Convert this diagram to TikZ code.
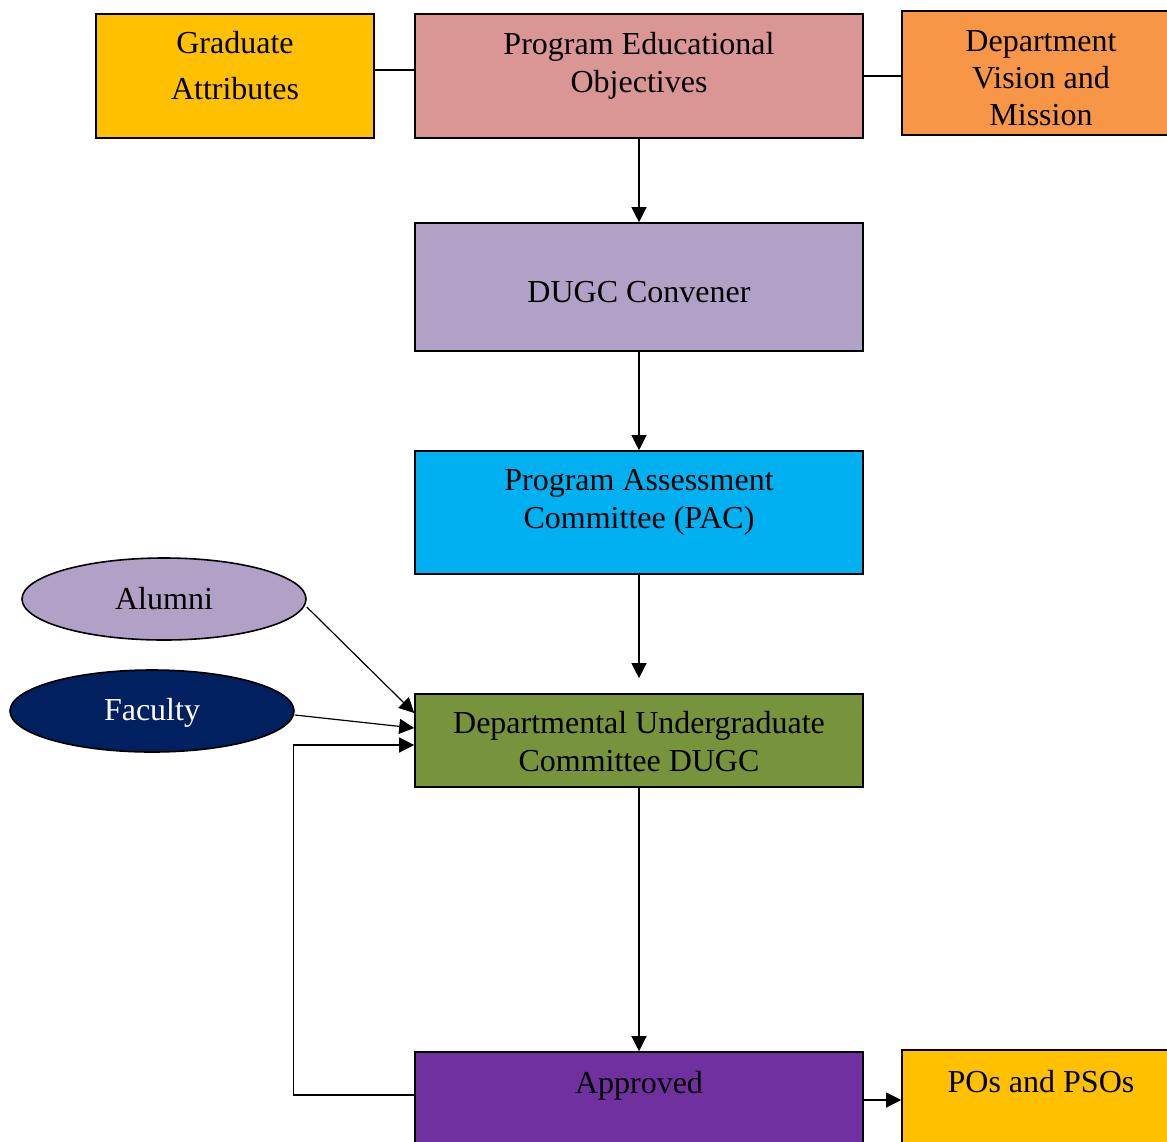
\documentclass[tikz,border=0pt]{standalone}
\usepackage{fontspec}
\setmainfont{Liberation Serif}
\usetikzlibrary{arrows.meta,shapes.geometric}

\definecolor{amarillo}{HTML}{FFC000}
\definecolor{rosa}{HTML}{D99694}
\definecolor{naranja}{HTML}{F79646}
\definecolor{lila}{HTML}{B2A1C7}
\definecolor{celeste}{HTML}{00B0F0}
\definecolor{oliva}{HTML}{77933C}
\definecolor{morado}{HTML}{7030A0}
\definecolor{marino}{HTML}{002060}

\tikzstyle{caja}= [rectangle,draw,black,line width=0.8pt]
\tikzstyle{ancha}= [caja,minimum width=224pt]
\tikzstyle{corta}= [caja,minimum width=139pt,minimum height=62pt]
\tikzstyle{elipse}= [ellipse,draw,black,line width=0.8pt,minimum width=142pt,minimum height=41pt,inner sep=0pt]
\tikzstyle{texto}= [align=center,font=\fontsize{16}{19}\selectfont]
\tikzstyle{flecha}= [-{Triangle[length=7.5pt,width=7.5pt]},line width=0.6pt]
\tikzstyle{linea}= [line width=0.6pt]

\begin{document}
\begin{tikzpicture}[x=0.5pt,y=-0.5pt]
		\useasboundingbox (0,0) rectangle (1167,1141);

		\node (ga) at (235,76) [corta,fill=amarillo] {};
		\node (ga/t) at (235,66) [texto] {Graduate\\[4pt]Attributes};

		\node (peo) at (639,76) [ancha,fill=rosa,minimum height=62pt] {};
		\node (peo/t) at (639,66) [texto] {Program Educational\\Objectives};

		\node (dvm) at (1041,73) [corta,fill=naranja] {};
		\node (dvm/t) at (1041,78) [texto] {Department\\[-0.5pt]Vision and\\[-0.5pt]Mission};

		\node (conv) at (639,287) [ancha,fill=lila,minimum height=64pt] {};
		\node (conv/t) at (639,292) [texto] {DUGC Convener};

		\node (pac) at (639,512.5) [ancha,fill=celeste,minimum height=61.5pt] {};
		\node (pac/t) at (639,502.5) [texto] {Program Assessment\\Committee (PAC)};

		\node (dugc) at (639,740.5) [ancha,fill=oliva,minimum height=46.5pt] {};
		\node (dugc/t) at (639,741.5) [texto] {Departmental Undergraduate\\Committee DUGC};

		\node (appr) at (639,1116) [ancha,fill=morado,minimum height=64pt] {};
		\node (appr/t) at (639,1086) [texto] {Approved};

		\node (pos) at (1041,1112) [corta,fill=amarillo] {};
		\node (pos/t) at (1041,1082) [texto] {POs and PSOs};

		\node (alum) at (164,599) [elipse,fill=lila,texto] {Alumni};
		\node (fac) at (152,711) [elipse,fill=marino,texto,text=white,text depth=2pt] {Faculty};

		\path[black,linea] ([yshift=3pt]ga.east) edge[] node {} ([yshift=3pt]peo.west);
		\path[black,linea] (peo.east) edge[] node {} (peo.east -| dvm.west);
		\path[black,flecha] (peo) edge[] node {} (conv);
		\path[black,flecha] (conv) edge[] node {} (pac);
		\path[black,flecha] (pac) edge[shorten >=7.5pt] node {} (dugc);
		\path[black,flecha] (dugc) edge[] node {} (appr);
		\path[black,flecha] ([yshift=-4pt]alum.east) edge[] node {} ([yshift=13.75pt]dugc.west);
		\path[black,flecha] ([yshift=-2pt]fac.east) edge[] node {} ([yshift=6.25pt]dugc.west);
		\path[black,flecha] ([yshift=8pt]appr.east) edge[] node {} ([yshift=8pt]appr.east -| pos.west);

		\draw[black,flecha] ([yshift=10.5pt]appr.west) -- ++(-60.5pt,0) |- ([yshift=-2.25pt]dugc.west);
\end{tikzpicture}
\end{document}
